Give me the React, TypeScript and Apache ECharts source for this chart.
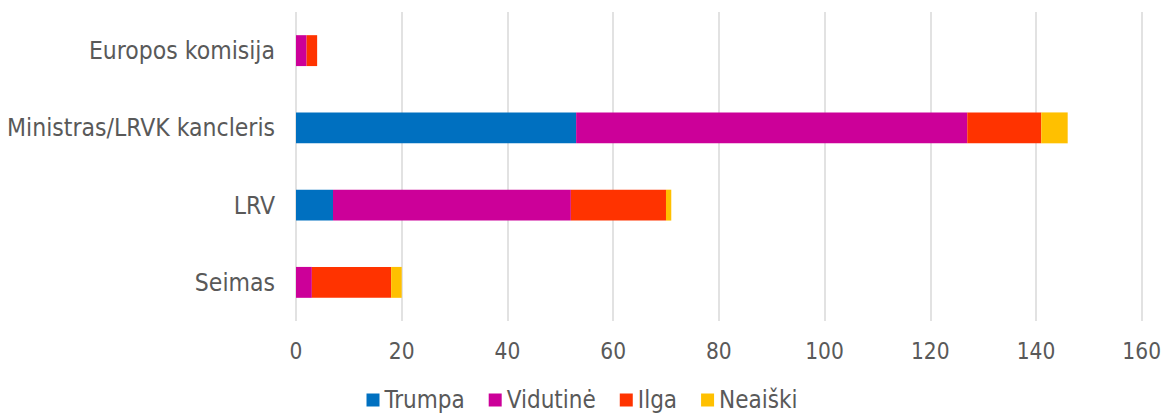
import React, { useEffect, useRef } from "react";
import * as echarts from "echarts";

const categories = ["Europos komisija", "Ministras/LRVK kancleris", "LRV", "Seimas"];
const seriesNames = ["Trumpa", "Vidutinė", "Ilga", "Neaiški"];
const trumpa = [0, 53, 7, 0];
const vidutine = [2, 74, 45, 3];
const ilga = [2, 14, 18, 15];
const neaiski = [0, 5, 1, 2];
const colors = ["#0070C0", "#CC0099", "#FF3300", "#FFC000"];
const xTicks = { min: 0, max: 160, interval: 20 };

const FONT = "'DejaVu Sans Condensed', 'Liberation Sans', sans-serif";

export default function App() {
  const ref = useRef<HTMLDivElement>(null);
  useEffect(() => {
    document.body.style.margin = "0";
    if (!ref.current) return;
    const chart = echarts.init(ref.current, null, { renderer: "svg" });
    const values = [trumpa, vidutine, ilga, neaiski];
    chart.setOption({
      animation: false,
      textStyle: { fontFamily: FONT },
      legend: {
        data: seriesNames,
        left: "center",
        top: 383,
        itemWidth: 13,
        itemHeight: 13,
        itemGap: 24,
        icon: "rect",
        textStyle: { fontSize: 24, color: "#595959", fontFamily: FONT, lineHeight: 24 },
      },
      grid: { left: 296, right: 22, top: 12, bottom: 93, containLabel: false },
      xAxis: {
        type: "value",
        min: xTicks.min,
        max: xTicks.max,
        interval: xTicks.interval,
        axisLine: { show: false },
        axisTick: { show: false },
        splitLine: { show: true, lineStyle: { color: "#D9D9D9", width: 1.5 } },
        axisLabel: { fontSize: 22.5, color: "#595959", margin: 18, fontFamily: FONT },
      },
      yAxis: {
        type: "category",
        data: categories,
        inverse: true,
        axisLine: { show: false },
        axisTick: { show: false },
        axisLabel: { fontSize: 24.5, color: "#595959", margin: 21, fontFamily: FONT },
      },
      series: seriesNames.map((name, i) => ({
        name,
        type: "bar",
        stack: "total",
        barWidth: "40%",
        data: values[i],
        itemStyle: { color: colors[i] },
      })),
    });
    return () => chart.dispose();
  }, []);
  return <div ref={ref} style={{ width: 1164, height: 414 }} />;
}
